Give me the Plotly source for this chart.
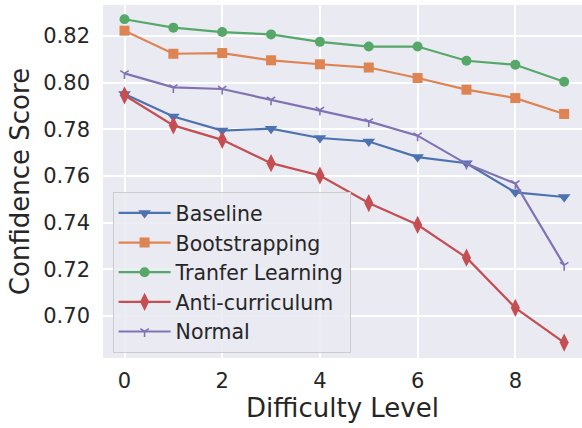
import plotly.graph_objects as go

difficulty = list(range(10))

baseline = [0.7951, 0.7855, 0.7795, 0.7803, 0.7763, 0.7748, 0.7681, 0.7655, 0.7530, 0.7510]
bootstrapping = [0.8223, 0.8124, 0.8127, 0.8096, 0.8079, 0.8065, 0.8020, 0.7970, 0.7934, 0.7866]
transfer = [0.8272, 0.8236, 0.8217, 0.8207, 0.8175, 0.8155, 0.8155, 0.8094, 0.8077, 0.8004]
anti_curriculum = [0.7946, 0.7817, 0.7755, 0.7655, 0.7602, 0.7484, 0.7391, 0.7250, 0.7035, 0.6886]
normal = [0.8040, 0.7980, 0.7973, 0.7927, 0.7883, 0.7834, 0.7773, 0.7652, 0.7568, 0.7218]

series = [
    ("Baseline", baseline, "#4C72B0", "triangle-down", 11),
    ("Bootstrapping", bootstrapping, "#DD8452", "square", 10),
    ("Tranfer Learning", transfer, "#55A868", "circle", 10),
    ("Anti-curriculum", anti_curriculum, "#C44E52", "diamond-tall", 13),
    ("Normal", normal, "#8172B3", "y-down", 7),
]

fig = go.Figure()
for name, vals, color, symbol, size in series:
    marker = dict(symbol=symbol, size=size, color=color)
    if symbol == "y-down":
        marker["line"] = dict(color=color, width=1.6)
    fig.add_trace(go.Scatter(
        x=difficulty, y=vals, name=name, mode="lines+markers",
        line=dict(color=color, width=2.2),
        marker=marker,
    ))

text_color = "#262626"
fig.update_layout(
    width=582, height=428,
    margin=dict(l=103, r=0, t=5, b=70, autoexpand=False),
    paper_bgcolor="white",
    plot_bgcolor="#EAEAF2",
    font=dict(family="DejaVu Sans", color=text_color, size=21),
    legend=dict(
        x=0.02, y=0.014, xanchor="left", yanchor="bottom",
        bgcolor="rgba(234,234,242,0.85)",
        bordercolor="#CCCCCC", borderwidth=1,
        font=dict(size=20.5, color=text_color),
        itemwidth=52,
        tracegroupgap=0,
    ),
    showlegend=True,
)
fig.update_xaxes(
    range=[-0.44, 9.365],
    tickvals=[0, 2, 4, 6, 8],
    showgrid=True, gridcolor="white", gridwidth=1.5,
    zeroline=False, showline=False,
    ticklabelstandoff=8,
    tickfont=dict(size=21),
    title=dict(text="Difficulty Level", font=dict(size=26), standoff=4),
)
fig.update_yaxes(
    range=[0.682, 0.8333],
    tickvals=[0.70, 0.72, 0.74, 0.76, 0.78, 0.80, 0.82],
    tickformat=".2f",
    showgrid=True, gridcolor="white", gridwidth=1.5,
    zeroline=False, showline=False,
    ticklabelstandoff=12,
    tickfont=dict(size=21),
    title=dict(text="Confidence Score", font=dict(size=26), standoff=6),
)

fig.write_html("out.html")
